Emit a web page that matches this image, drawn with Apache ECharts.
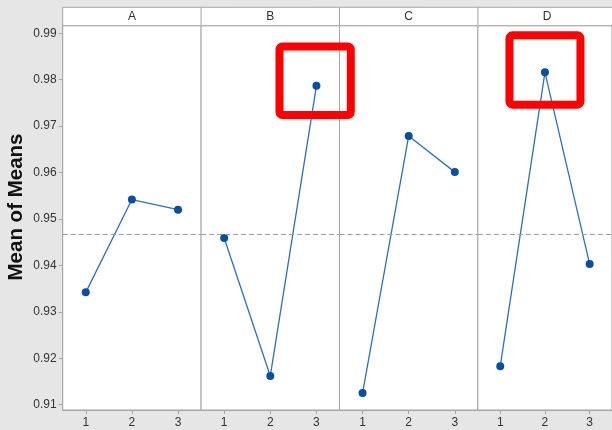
<!DOCTYPE html>
<html>
<head>
<meta charset="utf-8">
<script src="https://cdn.jsdelivr.net/npm/echarts@6/dist/echarts.min.js"></script>
<style>
  html, body { margin: 0; padding: 0; background: #e6e6e6; }
  #chart { width: 612px; height: 430px; }
</style>
</head>
<body>
<div id="chart"></div>
<script>
// Main effects plot: mean of means for each level of factors A-D
const factors = ['A', 'B', 'C', 'D'];
const levels = ['1', '2', '3'];
const meansA = [0.9342, 0.9542, 0.9520];
const meansB = [0.9459, 0.9162, 0.9787];
const meansC = [0.9125, 0.9679, 0.9601];
const meansD = [0.9183, 0.9816, 0.9403];
const yTicks = [0.91, 0.92, 0.93, 0.94, 0.95, 0.96, 0.97, 0.98, 0.99];
// highlighted points: [factor index, level index]
const highlights = [[1, 2], [3, 1]];

const allMeans = [meansA, meansB, meansC, meansD];
const flat = allMeans.flat();
const grandMean = flat.reduce((s, v) => s + v, 0) / flat.length;

const yMin = 0.90886, yMax = 0.99164;
const panelLeft = 62.7, panelW = 138.4, panelTop = 25.7, panelBottom = 410;
const headerTop = 7.3;
const edge = '#a6a6a6';

const grids = [], xAxes = [], yAxes = [], series = [];
factors.forEach((f, i) => {
  grids.push({
    left: panelLeft + i * panelW, width: panelW,
    top: panelTop, height: panelBottom - panelTop,
    show: true, backgroundColor: '#ffffff', borderColor: edge, borderWidth: 1
  });
  xAxes.push({
    type: 'category', gridIndex: i, data: levels, boundaryGap: true,
    axisLine: { show: true, lineStyle: { color: edge } },
    axisTick: { show: true, alignWithLabel: true, length: 4, lineStyle: { color: edge } },
    axisLabel: { color: '#333', fontFamily: 'Liberation Sans', fontSize: 12, margin: 7 },
    splitLine: { show: false }
  });
  yAxes.push({
    type: 'value', gridIndex: i, min: yMin, max: yMax,
    show: i === 0,
    axisLine: { show: true, lineStyle: { color: edge } },
    axisTick: { show: true, length: 4, customValues: yTicks, lineStyle: { color: edge } },
    axisLabel: {
      color: '#333', fontFamily: 'Liberation Sans', fontSize: 12, margin: 6,
      customValues: yTicks, formatter: v => v.toFixed(2)
    },
    splitLine: { show: false }
  });
  series.push({
    type: 'line', xAxisIndex: i, yAxisIndex: i, data: allMeans[i],
    symbol: 'circle', symbolSize: 8,
    itemStyle: { color: '#0a4f9e' },
    lineStyle: { color: '#2e6fbd', width: 1.3 },
    animation: false,
    markLine: {
      silent: true, symbol: 'none', label: { show: false }, precision: 6,
      lineStyle: { color: '#a0a0a0', type: [5, 3], width: 1 },
      data: [{ yAxis: grandMean }]
    }
  });
});

// facet header strip and the y-axis title
const header = [];
header.push({
  type: 'rect', shape: { x: panelLeft, y: headerTop, width: panelW * 4, height: panelTop - headerTop },
  style: { fill: '#ffffff', stroke: edge, lineWidth: 1 }
});
factors.forEach((f, i) => {
  if (i > 0) {
    header.push({
      type: 'line', shape: { x1: panelLeft + i * panelW, y1: headerTop, x2: panelLeft + i * panelW, y2: panelTop },
      style: { stroke: edge, lineWidth: 1 }
    });
  }
  header.push({
    type: 'text', x: panelLeft + (i + 0.5) * panelW, y: (headerTop + panelTop) / 2 + 0.5,
    style: { text: f, fill: '#333', font: '12px "Liberation Sans"', align: 'center', verticalAlign: 'middle' }
  });
});
header.push({
  type: 'text', x: 16, y: 207, rotation: Math.PI / 2,
  style: { text: 'Mean of Means', fill: '#111', font: 'bold 20.5px "Liberation Sans"', align: 'center', verticalAlign: 'middle' }
});

const chart = echarts.init(document.getElementById('chart'), null, { renderer: 'canvas' });
chart.setOption({
  backgroundColor: '#e6e6e6',
  animation: false,
  grid: grids, xAxis: xAxes, yAxis: yAxes, series: series,
  graphic: header
});

// red boxes around the highlighted level means
const boxSpec = [
  { dx: -1.3, dy: -5, w: 71.3, h: 68.6 },
  { dx: 0, dy: -2.3, w: 71, h: 69.3 }
];
const boxes = highlights.map(([fi, li], k) => {
  const p = chart.convertToPixel({ gridIndex: fi }, [li, allMeans[fi][li]]);
  const b = boxSpec[k];
  return {
    type: 'rect', z: 100,
    shape: { x: p[0] + b.dx - b.w / 2, y: p[1] + b.dy - b.h / 2, width: b.w, height: b.h, r: 3 },
    style: { fill: 'none', stroke: '#ff0000', lineWidth: 8 }
  };
});
chart.setOption({ graphic: header.concat(boxes) });
</script>
</body>
</html>
